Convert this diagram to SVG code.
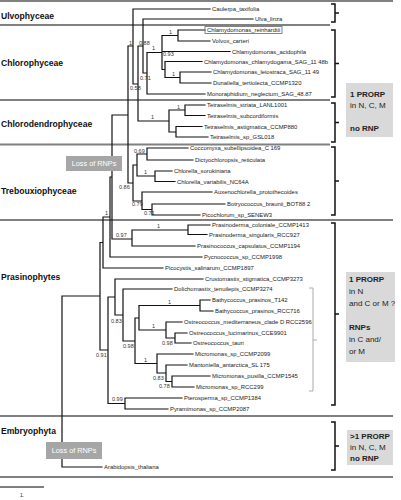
<svg xmlns="http://www.w3.org/2000/svg" width="401" height="500" viewBox="0 0 401 500">
<style>
.sep{stroke:#808080;stroke-width:1.8;fill:none}
.tree{stroke:#111;stroke-width:1.2;fill:none;stroke-linecap:square}
.leaf{font-family:"Liberation Sans",Arial,sans-serif;font-size:5.9px;fill:#222}
.sup{font-family:"Liberation Sans",Arial,sans-serif;font-size:5.5px;fill:#333}
.grp{font-family:"Liberation Sans",Arial,sans-serif;font-size:8.6px;font-weight:bold;fill:#111}
.brk{stroke:#111;stroke-width:1.5;fill:none}
.info{fill:#d9d9d9}
.itxt{font-family:"Liberation Sans",Arial,sans-serif;font-size:8px;fill:#222}
.b{font-weight:bold}
.loss{fill:#a6a6a6}
.ltxt{font-family:"Liberation Sans",Arial,sans-serif;font-size:7.3px;fill:#fff;text-anchor:middle}
</style>
<rect width="401" height="500" fill="#fff"/>
<g id="separators">
<path class="sep" d="M0,1H393M0,25H330M0,100H330M0,144.5H330M0,220H393M0,416H393M0,477H393"/>
</g>
<g id="group-labels">
<text class="grp" x="1" y="18.5">Ulvophyceae</text>
<text class="grp" x="1" y="65.5">Chlorophyceae</text>
<text class="grp" x="1" y="127">Chlorodendrophyceae</text>
<text class="grp" x="1" y="193.5">Trebouxiophyceae</text>
<text class="grp" x="1" y="279.5">Prasinophytes</text>
<text class="grp" x="1" y="433.5">Embryophyta</text>
</g>
<g id="connectors">
<path class="tree" d="
M62,296V467M62,296H100M62,467H102
M100,242.5V350M100,242.5H103M100,350H108
M103,217V268M103,217H110M103,268H163
M110,177V257M110,177H112M110,257H202
M112,115V239M112,115H128M112,239H132
M128,46V183M128,46H133M128,183H133
M133,9V84M133,9H210M133,84H138
M138,46V121M138,46H143M138,121H169
M143,19V73M143,19H253M143,73H147
M147,52.5V94M147,52.5H162M147,94H205
M162,35.5V69.5M162,35.5H178M162,51.5H230M162,69.5H165
M178,30V41M178,30H205M178,41H210
M165,61.5V77.5M165,61.5H202M165,77.5H180
M180,72V83M180,72H211M180,83H211
M169,110V132M169,110H185M169,132H176
M185,105V115.5M185,105H205M185,115.5H205
M176,126.5V137M176,126.5H202M176,137H208
M133,165V201M133,165H137M133,201H142
M137,154V176M137,154H147M137,176H155
M147,148V160M147,148H188M147,160H193
M155,171V181.5M155,171H172M155,181.5H175
M142,192V209.5M142,192H212M142,209.5H152
M152,204V215M152,204H225M152,215H200
M132,230V246M132,230H188M132,246H195
M188,225V234.5M188,225H210M188,234.5H207
M108,297V403.5M108,297H115M108,403.5H125
M125,398V409M125,398H182M125,409H168
M115,279V315M115,279H203M115,315H123
M123,289V341M123,289H172M123,341H135
M135,318V363.5M135,318H139M135,363.5H157
M139,305.5V330M139,305.5H200M139,330H166
M200,300V311M200,300H210M200,311H213
M166,322V338M166,322H182M166,338H175
M175,333V343M175,333H187M175,343H191
M157,354V373M157,354H193M157,373H166
M166,365V381.5M166,365H187M166,381.5H172
M172,376V387M172,376H210M172,387H194"/>
</g>
<g id="support-values">
<text class="sup" x="129" y="45">1</text>
<text class="sup" x="139" y="45">0.88</text>
<text class="sup" x="152" y="50">1</text>
<text class="sup" x="169" y="34">1</text>
<text class="sup" x="163" y="56">0.93</text>
<text class="sup" x="172" y="76">1</text>
<text class="sup" x="140" y="80">0.71</text>
<text class="sup" x="130" y="90">0.58</text>
<text class="sup" x="151" y="119">1</text>
<text class="sup" x="177" y="109">1</text>
<text class="sup" x="134" y="153">0.69</text>
<text class="sup" x="144" y="174">1</text>
<text class="sup" x="119" y="189">0.86</text>
<text class="sup" x="132" y="206">0.79</text>
<text class="sup" x="144" y="215">0.71</text>
<text class="sup" x="105" y="215">1</text>
<text class="sup" x="116" y="237">0.97</text>
<text class="sup" x="157" y="228">1</text>
<text class="sup" x="168" y="304">1</text>
<text class="sup" x="152" y="328">1</text>
<text class="sup" x="162" y="345">0.98</text>
<text class="sup" x="111" y="323">0.83</text>
<text class="sup" x="123" y="348">0.98</text>
<text class="sup" x="144" y="362">1</text>
<text class="sup" x="153" y="380">0.83</text>
<text class="sup" x="159" y="388">0.78</text>
<text class="sup" x="96" y="357">0.91</text>
<text class="sup" x="112" y="401">0.99</text>
</g>
<g id="leaves">
<g id="caulerpa"><text class="leaf" x="212" y="11">Caulerpa_taxifolia</text></g>
<g id="ulva"><text class="leaf" x="255" y="21">Ulva_linza</text></g>
<g id="chlamy-reinhardtii"><rect x="205" y="26.5" width="77" height="7" fill="none" stroke="#666" stroke-width="0.8"/><text class="leaf" x="207" y="32">Chlamydomonas_reinhardtii</text></g>
<g id="volvox"><text class="leaf" x="212" y="43">Volvox_carteri</text></g>
<g id="chlamy-acidophila"><text class="leaf" x="232" y="53.5">Chlamydomonas_acidophila</text></g>
<g id="chlamy-chlamydogama"><text class="leaf" x="204" y="63.5">Chlamydomonas_chlamydogama_SAG_11 48b</text></g>
<g id="chlamy-leiostraca"><text class="leaf" x="213" y="74">Chlamydomonas_leiostraca_SAG_11 49</text></g>
<g id="dunaliella"><text class="leaf" x="213" y="85">Dunaliella_tertiolecta_CCMP1320</text></g>
<g id="monoraphidium"><text class="leaf" x="207" y="96">Monoraphidium_neglectum_SAG_48.87</text></g>
<g id="tet-striata"><text class="leaf" x="207" y="107">Tetraselmis_striata_LANL1001</text></g>
<g id="tet-subcord"><text class="leaf" x="207" y="117.5">Tetraselmis_subcordiformis</text></g>
<g id="tet-astig"><text class="leaf" x="204" y="128.5">Tetraselmis_astigmatica_CCMP880</text></g>
<g id="tet-gsl"><text class="leaf" x="210" y="139">Tetraselmis_sp_GSL018</text></g>
<g id="coccomyxa"><text class="leaf" x="190" y="150">Coccomyxa_subellipsoidea_C 169</text></g>
<g id="dictyo"><text class="leaf" x="195" y="162">Dictyochloropsis_reticulata</text></g>
<g id="chlorella-soro"><text class="leaf" x="174" y="173">Chlorella_sorokiniana</text></g>
<g id="chlorella-var"><text class="leaf" x="177" y="183.5">Chlorella_variabilis_NC64A</text></g>
<g id="auxeno"><text class="leaf" x="214" y="194">Auxenochlorella_protothecoides</text></g>
<g id="botryo"><text class="leaf" x="227" y="206">Botryococcus_braunii_BOT88 2</text></g>
<g id="picochlorum"><text class="leaf" x="202" y="217">Picochlorum_sp_SENEW3</text></g>
<g id="prasinoderma-col"><text class="leaf" x="212" y="227">Prasinoderma_coloniale_CCMP1413</text></g>
<g id="prasinoderma-sing"><text class="leaf" x="209" y="236.5">Prasinoderma_singularis_RCC927</text></g>
<g id="prasinococcus"><text class="leaf" x="197" y="248">Prasinococcus_capsulatus_CCMP1194</text></g>
<g id="pycnococcus"><text class="leaf" x="204" y="259">Pycnococcus_sp_CCMP1998</text></g>
<g id="picocystis"><text class="leaf" x="165" y="270">Picocystis_salinarum_CCMP1897</text></g>
<g id="crustomastix"><text class="leaf" x="205" y="281">Crustomastix_stigmatica_CCMP3273</text></g>
<g id="dolichomastix"><text class="leaf" x="174" y="291">Dolichomastix_tenuilepis_CCMP3274</text></g>
<g id="bathy-t142"><text class="leaf" x="212" y="302">Bathycoccus_prasinos_T142</text></g>
<g id="bathy-rcc716"><text class="leaf" x="215" y="313">Bathycoccus_prasinos_RCC716</text></g>
<g id="ostreo-med"><text class="leaf" x="184" y="324">Ostreococcus_mediterraneus_clade D RCC2596</text></g>
<g id="ostreo-luci"><text class="leaf" x="189" y="335">Ostreococcus_lucimarinus_CCE9901</text></g>
<g id="ostreo-tauri"><text class="leaf" x="193" y="345">Ostreococcus_tauri</text></g>
<g id="micromonas-2099"><text class="leaf" x="195" y="356">Micromonas_sp_CCMP2099</text></g>
<g id="mantoniella"><text class="leaf" x="189" y="367">Mantoniella_antarctica_SL 175</text></g>
<g id="micromonas-pusilla"><text class="leaf" x="212" y="378">Micromonas_pusilla_CCMP1545</text></g>
<g id="micromonas-rcc299"><text class="leaf" x="196" y="389">Micromonas_sp_RCC299</text></g>
<g id="pterosperma"><text class="leaf" x="184" y="400">Pterosperma_sp_CCMP1384</text></g>
<g id="pyramimonas"><text class="leaf" x="170" y="411">Pyramimonas_sp_CCMP2087</text></g>
<g id="arabidopsis"><text class="leaf" x="104" y="469">Arabidopsis_thaliana</text></g>
</g>
<g id="loss-rnps-1"><rect class="loss" x="66" y="156" width="56" height="15"/><text class="ltxt" x="94" y="166.3">Loss of RNPs</text></g>
<g id="loss-rnps-2"><rect class="loss" x="46" y="442" width="56" height="17"/><text class="ltxt" x="74" y="453.3">Loss of RNPs</text></g>
<g id="mamiello-bracket"><path d="M309,288H313V391H309M313,340H317" fill="none" stroke="#aaa" stroke-width="1"/></g>
<g id="brackets">
<path class="brk" d="M331,4H335V22H331M335,13H339"/>
<path class="brk" d="M331,30H335V97H331M335,63.5H339"/>
<path class="brk" d="M331,103H335V142H331M335,122.5H339"/>
<path class="brk" d="M331,147H335V215H331M335,181H339"/>
<path class="brk" d="M331,223H335V405H331M335,314H339"/>
<path class="brk" d="M331,422H335V470H331M335,446H339"/>
</g>
<g id="info-1"><rect class="info" x="346" y="83" width="47" height="54"/>
<text class="itxt b" x="350" y="97">1 PRORP</text>
<text class="itxt" x="350" y="108">in N, C, M</text>
<text class="itxt b" x="350" y="131">no RNP</text></g>
<g id="info-2"><rect class="info" x="346" y="272" width="49" height="90"/>
<text class="itxt b" x="349" y="282">1 PRORP</text>
<text class="itxt" x="349" y="294">in N</text>
<text class="itxt" x="349" y="306">and C or M ?</text>
<text class="itxt b" x="349" y="330">RNPs</text>
<text class="itxt" x="349" y="342">in C and/</text>
<text class="itxt" x="349" y="354">or M</text></g>
<g id="info-3"><rect class="info" x="347" y="430" width="46" height="35"/>
<text class="itxt b" x="350" y="439">&gt;1 PRORP</text>
<text class="itxt" x="350" y="450">in N, C, M</text>
<text class="itxt b" x="350" y="461">no RNP</text></g>
<g id="footnote"><path d="M0,487H44" stroke="#000" stroke-width="1"/><text x="20" y="497" font-family="Liberation Sans, Arial, sans-serif" font-size="5px" fill="#222">1.</text></g>
</svg>
